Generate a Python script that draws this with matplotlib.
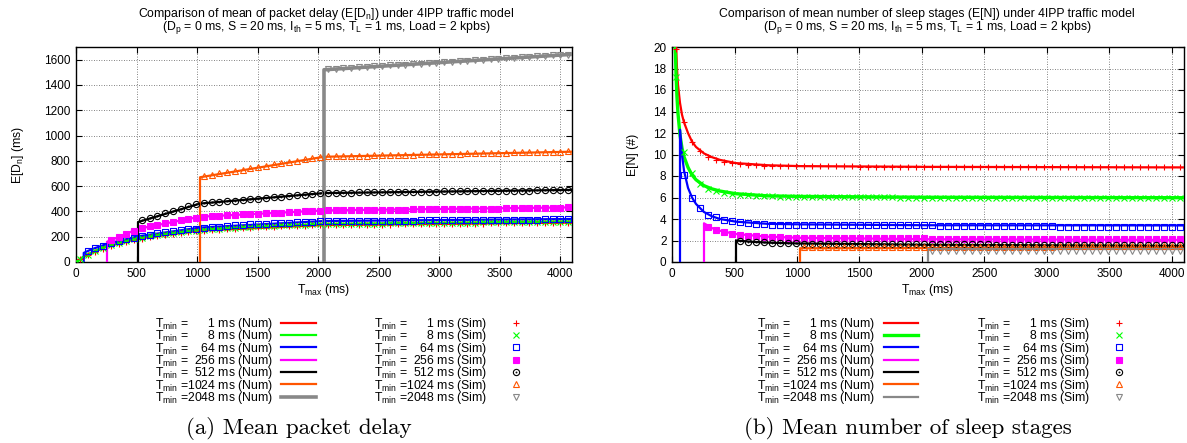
import matplotlib
matplotlib.use("Agg")
import matplotlib.pyplot as plt
from matplotlib.path import Path

plt.rcParams["font.family"] = ["Liberation Sans", "DejaVu Sans"]
plt.rcParams["mathtext.fontset"] = "custom"
plt.rcParams["mathtext.rm"] = "Liberation Sans"
plt.rcParams["mathtext.it"] = "Liberation Sans:italic"
plt.rcParams["mathtext.default"] = "regular"

W, H = 1187, 443

# T_min settings (ms) and gnuplot-like colours
t_min = [1, 8, 64, 256, 512, 1024, 2048]
colors = ["#ff0000", "#00ff00", "#0000ff", "#ff00ff", "#000000", "#ff5500", "#888888"]

# Tmax of the simulation points (ms)
tmax_sim = list(range(32, 4096, 64))

# ---- (a) mean packet delay E[Dn] (ms), numerical model
d_num_x_1 = [1, 2, 4, 8, 16, 32, 64, 128, 256, 512, 1024, 2048, 4096]
d_num_1 = [0, 1, 3, 6, 12, 22, 40, 72, 122, 185, 248, 292, 312]
d_num_x_8 = [8, 8, 16, 32, 64, 128, 256, 512, 1024, 2048, 4096]
d_num_8 = [0, 6, 12, 24, 43, 75, 126, 191, 256, 300, 320]
d_num_x_64 = [64, 64, 128, 256, 512, 1024, 2048, 4096]
d_num_64 = [0, 72, 100, 143, 203, 272, 324, 340]
d_num_x_256 = [256, 256, 512, 1024, 2048, 4096]
d_num_256 = [0, 160, 262, 358, 408, 432]
d_num_x_512 = [512, 512, 1024, 2048, 4096]
d_num_512 = [0, 316, 462, 545, 570]
d_num_x_1024 = [1024, 1024, 2048, 4096]
d_num_1024 = [0, 670, 832, 872]
d_num_x_2048 = [2048, 2048, 4096]
d_num_2048 = [0, 1520, 1642]

# (a) simulation, on the tail of tmax_sim
d_sim_1 = [20, 55, 82, 106, 127, 145, 160, 173, 185, 196,
           205, 214, 222, 229, 236, 242, 247, 252, 256, 260,
           264, 267, 270, 273, 276, 278, 281, 283, 285, 287,
           289, 290, 291, 292, 292, 293, 294, 294, 295, 296,
           296, 297, 298, 298, 299, 300, 300, 301, 302, 302,
           303, 304, 304, 305, 305, 306, 306, 307, 307, 308,
           308, 309, 309, 310]
d_sim_8 = [24, 58, 86, 110, 131, 150, 165, 179, 191, 202,
           212, 221, 229, 236, 243, 249, 255, 260, 264, 268,
           272, 275, 278, 281, 284, 286, 289, 291, 293, 295,
           297, 298, 299, 300, 301, 301, 302, 303, 304, 304,
           305, 306, 306, 307, 308, 308, 309, 310, 310, 311,
           312, 312, 313, 314, 314, 315, 316, 316, 317, 318,
           318, 319, 319, 320]
d_sim_64 = [85, 110, 130, 150, 166, 180, 193, 205, 216, 226,
            235, 243, 250, 257, 263, 270, 275, 280, 285, 289,
            293, 297, 300, 303, 306, 309, 312, 314, 317, 319,
            321, 322, 323, 323, 324, 325, 325, 326, 326, 327,
            327, 328, 328, 329, 329, 330, 330, 331, 331, 332,
            332, 333, 333, 334, 334, 335, 335, 336, 336, 337,
            337, 338, 338]
d_sim_256 = [172, 198, 222, 246, 266, 282, 296, 309, 320, 331,
             341, 351, 359, 364, 367, 370, 373, 376, 379, 382,
             385, 388, 391, 394, 397, 400, 403, 406, 408, 409,
             410, 410, 411, 412, 412, 413, 414, 414, 415, 416,
             416, 417, 418, 418, 419, 420, 420, 421, 422, 422,
             423, 424, 424, 425, 426, 426, 427, 428, 428, 431]
d_sim_512 = [330, 348, 366, 384, 403, 421, 439, 455, 466, 471,
             476, 481, 486, 491, 496, 501, 507, 512, 517, 522,
             527, 532, 537, 542, 546, 547, 548, 549, 550, 551,
             551, 552, 553, 554, 554, 555, 556, 556, 557, 558,
             558, 559, 560, 560, 561, 562, 562, 563, 564, 564,
             565, 566, 566, 567, 568, 569]
d_sim_1024 = [681, 691, 701, 711, 721, 731, 741, 751, 761, 771,
              781, 791, 801, 811, 821, 831, 836, 837, 838, 840,
              841, 842, 843, 845, 846, 847, 848, 850, 851, 852,
              853, 855, 856, 857, 858, 860, 861, 862, 863, 865,
              866, 867, 868, 870, 871, 872, 873, 874]
d_sim_2048 = [1524, 1528, 1531, 1535, 1539, 1543, 1546, 1550, 1554, 1558,
              1561, 1565, 1569, 1573, 1576, 1580, 1584, 1588, 1591, 1595,
              1599, 1603, 1606, 1610, 1614, 1618, 1621, 1625, 1629, 1633,
              1636, 1640]

# ---- (b) mean number of sleep stages E[N], numerical model
n_num_x_1 = [24, 32, 40, 48, 64, 80, 96, 128, 160, 192, 256, 320, 384, 512, 768, 1024, 2048, 4096]
n_num_1 = [28, 20.5, 18.0, 16.5, 14.8, 13.7, 13.0, 12.0, 11.2, 10.7, 10.1, 9.75, 9.5, 9.2, 9.0, 8.92, 8.85, 8.8]
n_num_x_8 = [16, 24, 32, 40, 48, 64, 80, 96, 128, 160, 192, 256, 320, 384, 512, 768, 1024, 2048, 4096]
n_num_8 = [28, 21, 17.5, 15.3, 13.8, 11.8, 10.6, 9.8, 8.8, 8.1, 7.65, 7.1, 6.8, 6.6, 6.35, 6.15, 6.1, 6.02, 5.98]
n_num_x_64 = [64, 64, 80, 96, 128, 160, 192, 256, 320, 384, 512, 768, 1024, 2048, 4096]
n_num_64 = [0, 12.3, 10.0, 8.5, 6.9, 6.0, 5.4, 4.65, 4.25, 4.0, 3.75, 3.55, 3.5, 3.42, 3.4]
n_num_x_256 = [256, 256, 320, 384, 512, 768, 1024, 2048, 4096]
n_num_256 = [0, 3.6, 3.15, 2.9, 2.6, 2.35, 2.25, 2.12, 2.05]
n_num_x_512 = [512, 512, 640, 768, 1024, 2048, 4096]
n_num_512 = [0, 2.0, 1.88, 1.8, 1.72, 1.6, 1.5]
n_num_x_1024 = [1024, 1024, 2048, 4096]
n_num_1024 = [0, 1.28, 1.3, 1.35]
n_num_x_2048 = [2048, 2048, 4096]
n_num_2048 = [0, 1.2, 1.2]

# (b) simulation
n_sim_1 = [19.8, 13.0, 11.2, 10.3, 9.8, 9.5, 9.3, 9.2, 9.1, 9.0,
           9.0, 8.95, 8.9, 8.9, 8.9, 8.9, 8.9, 8.9, 8.9, 8.9,
           8.9, 8.9, 8.9, 8.85, 8.85, 8.85, 8.85, 8.85, 8.85, 8.85,
           8.85, 8.85, 8.85, 8.85, 8.85, 8.85, 8.85, 8.85, 8.85, 8.85,
           8.85, 8.85, 8.85, 8.8, 8.8, 8.8, 8.8, 8.8, 8.8, 8.8,
           8.8, 8.8, 8.8, 8.8, 8.8, 8.8, 8.8, 8.8, 8.8, 8.8,
           8.8, 8.8, 8.8, 8.8]
n_sim_8 = [17.2, 10.2, 8.3, 7.3, 6.8, 6.6, 6.45, 6.35, 6.25, 6.2,
           6.15, 6.1, 6.1, 6.05, 6.05, 6.05, 6.05, 6.05, 6.05, 6.05,
           6.05, 6.05, 6.05, 6.05, 6.05, 6.05, 6.05, 6.05, 6.0, 6.0,
           6.0, 6.0, 6.0, 6.0, 6.0, 6.0, 6.0, 6.0, 6.0, 6.0,
           6.0, 6.0, 6.0, 6.0, 6.0, 6.0, 6.0, 6.0, 5.95, 5.95,
           5.95, 5.95, 5.95, 5.95, 5.95, 5.95, 5.95, 5.95, 5.95, 5.95,
           5.95, 5.95, 5.95, 5.95]
n_sim_64 = [8.1, 6.0, 5.0, 4.4, 4.15, 3.95, 3.8, 3.7, 3.62, 3.55,
            3.5, 3.45, 3.4, 3.4, 3.4, 3.4, 3.4, 3.4, 3.4, 3.4,
            3.4, 3.4, 3.4, 3.4, 3.4, 3.4, 3.4, 3.4, 3.4, 3.4,
            3.4, 3.4, 3.35, 3.35, 3.35, 3.35, 3.35, 3.35, 3.35, 3.35,
            3.35, 3.35, 3.35, 3.35, 3.35, 3.35, 3.35, 3.3, 3.3, 3.3,
            3.3, 3.3, 3.3, 3.3, 3.3, 3.3, 3.3, 3.3, 3.3, 3.3,
            3.3, 3.3, 3.3]
n_sim_256 = [3.3, 3.0, 2.8, 2.65, 2.55, 2.45, 2.4, 2.35, 2.3, 2.28,
             2.25, 2.22, 2.2, 2.2, 2.2, 2.2, 2.2, 2.2, 2.2, 2.2,
             2.2, 2.2, 2.2, 2.2, 2.2, 2.2, 2.2, 2.2, 2.15, 2.15,
             2.15, 2.15, 2.15, 2.15, 2.15, 2.15, 2.15, 2.15, 2.15, 2.15,
             2.15, 2.15, 2.15, 2.15, 2.1, 2.1, 2.1, 2.1, 2.1, 2.1,
             2.1, 2.1, 2.1, 2.1, 2.1, 2.1, 2.1, 2.1, 2.1, 2.1]
n_sim_512 = [1.95, 1.9, 1.85, 1.82, 1.8, 1.78, 1.76, 1.74, 1.72, 1.72,
             1.72, 1.72, 1.72, 1.72, 1.72, 1.72, 1.7, 1.7, 1.7, 1.7,
             1.7, 1.7, 1.7, 1.7, 1.66, 1.66, 1.66, 1.66, 1.66, 1.66,
             1.66, 1.66, 1.62, 1.62, 1.62, 1.62, 1.62, 1.62, 1.62, 1.62,
             1.58, 1.58, 1.58, 1.58, 1.58, 1.58, 1.58, 1.58, 1.55, 1.55,
             1.55, 1.55, 1.55, 1.55, 1.55, 1.55]
n_sim_1024 = [1.4, 1.4, 1.4, 1.4, 1.4, 1.4, 1.4, 1.4, 1.4, 1.4,
              1.4, 1.4, 1.4, 1.4, 1.4, 1.4, 1.42, 1.42, 1.42, 1.42,
              1.42, 1.42, 1.42, 1.42, 1.42, 1.42, 1.42, 1.42, 1.42, 1.42,
              1.42, 1.42, 1.45, 1.45, 1.45, 1.45, 1.45, 1.45, 1.45, 1.45,
              1.45, 1.45, 1.45, 1.45, 1.45, 1.45, 1.45, 1.45]
n_sim_2048 = [1.05, 1.05, 1.05, 1.05, 1.05, 1.05, 1.05, 1.05, 1.05, 1.05,
              1.05, 1.05, 1.05, 1.05, 1.05, 1.05, 1.05, 1.05, 1.05, 1.05,
              1.05, 1.05, 1.05, 1.05, 1.05, 1.05, 1.05, 1.05, 1.05, 1.05,
              1.05, 1.05]

d_num_x = [d_num_x_1, d_num_x_8, d_num_x_64, d_num_x_256, d_num_x_512, d_num_x_1024, d_num_x_2048]
d_num = [d_num_1, d_num_8, d_num_64, d_num_256, d_num_512, d_num_1024, d_num_2048]
d_sim = [d_sim_1, d_sim_8, d_sim_64, d_sim_256, d_sim_512, d_sim_1024, d_sim_2048]
n_num_x = [n_num_x_1, n_num_x_8, n_num_x_64, n_num_x_256, n_num_x_512, n_num_x_1024, n_num_x_2048]
n_num = [n_num_1, n_num_8, n_num_64, n_num_256, n_num_512, n_num_1024, n_num_2048]
n_sim = [n_sim_1, n_sim_8, n_sim_64, n_sim_256, n_sim_512, n_sim_1024, n_sim_2048]

# gnuplot-ish point types: square and circle with a centre dot
sq_dot = Path.make_compound_path(
    Path([(-1, -1), (1, -1), (1, 1), (-1, 1), (-1, -1)], closed=True),
    Path([(-0.12, -0.12), (0.12, -0.12), (0.12, 0.12), (-0.12, 0.12), (-0.12, -0.12)], closed=True))
circ_dot = Path.make_compound_path(Path.circle((0, 0), 1), Path.circle((0, 0), 0.12))
markers = ["+", "x", sq_dot, "s", circ_dot, "^", "v"]
msizes = [5, 4, 4.5, 4.5, 4.5, 4, 4]
mfcs = ["none", "none", "none", colors[3], "none", "none", "none"]


def rect(x0, y0, x1, y1):
    return [x0 / W, 1 - y1 / H, (x1 - x0) / W, (y1 - y0) / H]


def draw(ax, num_x, num_y, sim_y, lws):
    num_lines, sim_pts = [], []
    for i in range(7):
        ln, = ax.plot(num_x[i], num_y[i], color=colors[i], lw=lws[i], zorder=3)
        num_lines.append(ln)
    for i in range(7):
        xs = tmax_sim[len(tmax_sim) - len(sim_y[i]):]
        pt, = ax.plot(xs, sim_y[i], ls="none", marker=markers[i], ms=msizes[i],
                      mec=colors[i], mfc=mfcs[i], mew=0.8, zorder=4)
        sim_pts.append(pt)
    return num_lines, sim_pts


fig = plt.figure(figsize=(W / 100, H / 100), dpi=100)
ax_d = fig.add_axes(rect(76, 47, 572, 262))
ax_n = fig.add_axes(rect(672, 47, 1184, 262))

num_d, sim_d = draw(ax_d, d_num_x, d_num, d_sim, [1.6, 1.6, 1.6, 1.6, 1.6, 1.6, 2.6])
num_n, sim_n = draw(ax_n, n_num_x, n_num, n_sim, [1.6, 2.4, 1.6, 1.6, 1.6, 1.6, 1.6])

ax_d.set_ylim(0, 1700)
ax_d.set_yticks(range(0, 1601, 200))
ax_d.set_ylabel("E[D$_n$] (ms)", fontsize=8.8, labelpad=13)
ax_n.set_ylim(0, 20)
ax_n.set_yticks(range(0, 21, 2))
ax_n.set_ylabel("E[N] (#)", fontsize=8.8, labelpad=10)

for ax in (ax_d, ax_n):
    ax.set_xlim(0, 4096)
    ax.set_xticks(range(0, 4001, 500))
    ax.set_axisbelow(True)
    ax.grid(True, color="0.35", ls=(0, (1, 2)), lw=0.6)
    ax.tick_params(direction="in", top=True, right=True, labelsize=8.5, length=4, pad=4)
    ax.set_xlabel("T$_{max}$ (ms)", fontsize=8.8, labelpad=2)
    for s in ax.spines.values():
        s.set_linewidth(1.0)

# titles
fig.text(326 / W, 1 - 14 / H, "Comparison of mean of packet delay (E[D$_n$]) under 4IPP traffic model",
         ha="center", va="center", fontsize=8.8)
fig.text(927 / W, 1 - 14 / H, "Comparison of mean number of sleep stages (E[N]) under 4IPP traffic model",
         ha="center", va="center", fontsize=8.8)
sub = "(D$_p$ = 0 ms, S = 20 ms, I$_{th}$ = 5 ms, T$_L$ = 1 ms, Load = 2 kpbs)"
fig.text(326 / W, 1 - 27.5 / H, sub, ha="center", va="center", fontsize=8.8)
fig.text(927 / W, 1 - 27.5 / H, sub, ha="center", va="center", fontsize=8.8)

# keys below the plots
num_labels = [f"T$_{{min}}$ ={' ' * (2 * (4 - len(str(t))))}{t} ms (Num)" for t in t_min]
sim_labels = [f"T$_{{min}}$ ={' ' * (2 * (4 - len(str(t))))}{t} ms (Sim)" for t in t_min]
key = dict(frameon=False, markerfirst=False, fontsize=8.8, labelspacing=-0.3,
           borderpad=0, borderaxespad=0, loc="upper right", numpoints=1)
fig.legend(num_d, num_labels, bbox_to_anchor=(316 / W, 1 - 316 / H),
           handlelength=2.9, handletextpad=0.65, **key)
fig.legend(sim_d, sim_labels, bbox_to_anchor=(528 / W, 1 - 316 / H),
           handlelength=2.0, handletextpad=1.35, **key)
fig.legend(num_n, num_labels, bbox_to_anchor=(918 / W, 1 - 316 / H),
           handlelength=2.8, handletextpad=0.75, **key)
fig.legend(sim_n, sim_labels, bbox_to_anchor=(1131 / W, 1 - 316 / H),
           handlelength=2.0, handletextpad=1.35, **key)

# sub-figure captions
fig.text(299 / W, 1 - 428 / H, "(a) Mean packet delay", family="cmr10", fontsize=16.6,
         ha="center", va="center")
fig.text(908 / W, 1 - 428 / H, "(b) Mean number of sleep stages", family="cmr10", fontsize=16.6,
         ha="center", va="center")

fig.savefig("out.png", dpi=100)
